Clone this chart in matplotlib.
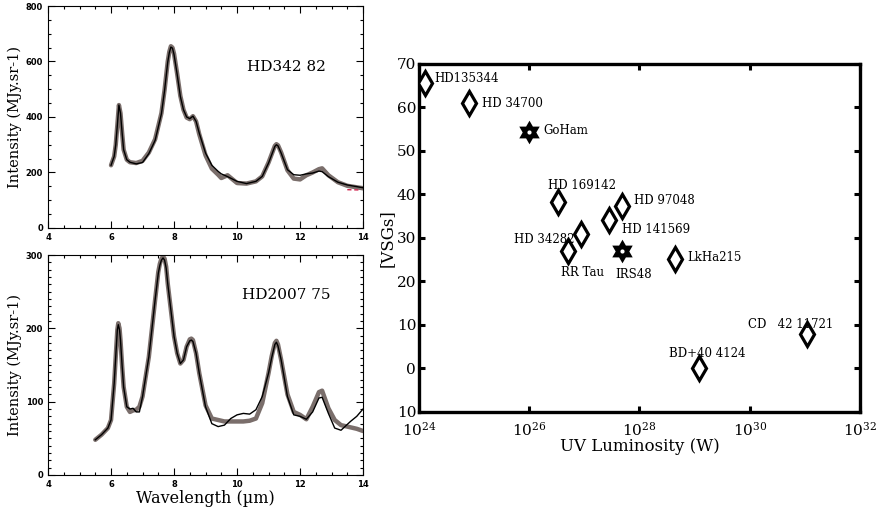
import numpy as np
import matplotlib
matplotlib.use("Agg")
from matplotlib import pyplot as plt
from matplotlib.ticker import MultipleLocator, FixedLocator, FixedFormatter

# top spectrum (HD34282)
wl_a = [6.0, 6.1, 6.15, 6.2, 6.25, 6.3, 6.35, 6.4, 6.5, 6.6, 6.8, 7.0, 7.2, 7.4, 7.6,
        7.7, 7.8, 7.85, 7.9, 7.95, 8.0, 8.1, 8.2, 8.3, 8.4, 8.5, 8.6, 8.7, 8.8, 9.0,
        9.2, 9.4, 9.5, 9.7, 10.0, 10.3, 10.6, 10.8, 11.0, 11.1, 11.2, 11.25, 11.3,
        11.4, 11.6, 11.8, 12.0, 12.2, 12.4, 12.6, 12.7, 12.9, 13.2, 13.5, 14.0]
obs_a = [226, 258, 300, 370, 443, 414, 345, 282, 246, 237, 231, 236, 268, 316, 412,
         496, 598, 632, 652, 648, 625, 553, 474, 426, 400, 394, 403, 384, 342, 270,
         226, 204, 195, 185, 168, 160, 168, 186, 234, 264, 294, 300, 296,
         270, 210, 192, 190, 195, 198, 205, 203, 185, 165, 155, 145]
mod_a = [226, 258, 300, 370, 443, 414, 345, 282, 246, 237, 234, 242, 272, 320, 414,
         498, 600, 635, 655, 650, 628, 555, 476, 426, 398, 392, 403, 384, 338, 262,
         214, 192, 180, 190, 162, 160, 168, 186, 236, 266, 296, 302, 298,
         272, 208, 178, 175, 190, 200, 212, 215, 190, 165, 152, 143]
wl_red = [13.5, 13.9]
red_a = [138, 137]

# bottom spectrum (HD200775)
wl_b = [5.5, 5.7, 5.9, 6.0, 6.1, 6.15, 6.2, 6.23, 6.27, 6.3, 6.35, 6.4, 6.5, 6.6,
        6.7, 6.8, 6.9, 7.0, 7.2, 7.4, 7.5, 7.55, 7.6, 7.65, 7.7, 7.75, 7.8, 8.0,
        8.1, 8.2, 8.3, 8.4, 8.5, 8.55, 8.6, 8.7, 8.8, 9.0, 9.2, 9.4, 9.6, 9.8, 10.0,
        10.2, 10.4, 10.6, 10.8, 11.0, 11.1, 11.2, 11.25, 11.3, 11.4, 11.6, 11.8,
        12.0, 12.2, 12.4, 12.6, 12.7, 12.9, 13.1, 13.3, 13.6, 13.8, 14.0]
obs_b = [48, 55, 64, 75, 125, 162, 198, 205, 198, 184, 150, 120, 93, 90,
         91, 86, 86, 107, 161, 239, 275, 286, 293, 296, 293, 282, 261, 189,
         166, 152, 157, 175, 183, 184, 182, 166, 139, 93, 70, 66, 68, 77, 82,
         84, 83, 89, 107, 139, 160, 178, 181, 176, 157, 107, 82,
         80, 76, 86, 105, 106, 84, 64, 61, 73, 80, 90]
mod_b = [48, 55, 64, 75, 125, 162, 198, 207, 200, 184, 150, 120, 93, 86,
         88, 89, 93, 107, 161, 239, 277, 288, 295, 298, 295, 284, 261, 189,
         166, 152, 157, 175, 185, 186, 184, 166, 139, 95, 77, 75, 73, 73, 73,
         73, 74, 77, 98, 139, 162, 180, 183, 178, 157, 110, 86,
         82, 76, 93, 113, 115, 91, 75, 68, 65, 63, 60]

# right panel: VSG fraction vs UV luminosity
names = ["HD135344", "HD 34700", "GoHam", "HD 169142", "HD 34282", "RR Tau",
         "HD 141569", "HD 97048", "IRS48", "LkHa215", "BD+40 4124", "CD   42 11721"]
log_uv = [24.11, 24.91, 26.0, 26.52, 26.93, 26.71, 27.45, 27.69, 27.69, 28.65, 29.08, 31.04]
vsg = [65.7, 61.0, 54.4, 38.2, 30.9, 26.9, 34.1, 37.4, 27.1, 25.1, 0.0, 7.9]
is_star = [False, False, True, False, False, False, False, False, True, False, False, False]
# label offsets in points and alignment
lab_off = [(6.5, 3), (9.5, 0), (10, 1), (17, 12), (-4, -4), (10, -15),
           (9, -7), (8, 4), (8, -17), (9, 1.5), (6, 11), (-12, 7)]
lab_ha = ["left", "left", "left", "center", "right", "center",
          "left", "left", "center", "left", "center", "center"]

y_ticks = [-10, 0, 10, 20, 30, 40, 50, 60, 70]
y_labels = ["10", "0", "10", "20", "30", "40", "50", "60", "70"]
x_ticks = [1e24, 1e26, 1e28, 1e30, 1e32]
x_labels = [r"$10^{24}$", r"$10^{26}$", r"$10^{28}$", r"$10^{30}$", r"$10^{32}$"]

plt.rcParams["font.family"] = ["DejaVu Serif"]
plt.rcParams["mathtext.fontset"] = "dejavuserif"

fig = plt.figure(figsize=(8.78, 5.13), dpi=100)
ax1 = fig.add_axes([0.0547, 0.5556, 0.3588, 0.4327])
ax2 = fig.add_axes([0.0547, 0.0741, 0.3588, 0.4288])
ax3 = fig.add_axes([0.4772, 0.1969, 0.5023, 0.6784])

gray = "#7a6e6b"
for ax, wl, obs, mod, ymax, yminor, name, ny in [
        (ax1, wl_a, obs_a, mod_a, 800, 50, "HD342 82", 580),
        (ax2, wl_b, obs_b, mod_b, 300, 10, "HD2007 75", 245)]:
    ax.plot(wl, mod, color=gray, lw=3.2, solid_capstyle="round", solid_joinstyle="round")
    ax.plot(wl, obs, color="black", lw=1.0, solid_joinstyle="round")
    ax.set_xlim(4, 14)
    ax.set_ylim(0, ymax)
    ax.xaxis.set_major_locator(MultipleLocator(2))
    ax.xaxis.set_minor_locator(MultipleLocator(0.5))
    ax.yaxis.set_major_locator(MultipleLocator(100 if ymax == 300 else 200))
    ax.yaxis.set_minor_locator(MultipleLocator(yminor))
    ax.tick_params(which="both", direction="in", top=True, right=True,
                   labelsize=6, width=0.8)
    ax.tick_params(which="major", length=5)
    ax.tick_params(which="minor", length=2.5)
    for lab in ax.get_xticklabels() + ax.get_yticklabels():
        lab.set_fontfamily("DejaVu Sans")
        lab.set_fontweight("bold")
    for s in ax.spines.values():
        s.set_linewidth(0.8)
    ax.text(11.56, ny, name, ha="center", va="center", fontsize=11)
    ax.set_ylabel("Intensity (MJy.sr-1)", fontsize=10.5, labelpad=3)

ax1.plot(wl_red, red_a, color="#d0204a", lw=1.0, ls=(0, (3, 2)))
ax2.set_xlabel("Wavelength (\u00b5m)", fontsize=11.5, labelpad=1)

# six-pointed star marker
ang_out = np.deg2rad(np.arange(90, 450, 60))
ang_in = ang_out + np.deg2rad(30)
star = []
for a, b in zip(ang_out, ang_in):
    star.append((np.cos(a), np.sin(a)))
    star.append((np.cos(b) / np.sqrt(3), np.sin(b) / np.sqrt(3)))
star.append(star[0])

uv = [10 ** v for v in log_uv]
for x, y, st in zip(uv, vsg, is_star):
    if st:
        ax3.plot(x, y, marker=star, ms=17, color="black", mew=0, zorder=3)
        ax3.plot(x, y, marker="o", ms=3, color="white", mew=0, zorder=4)
    else:
        ax3.plot(x, y, marker="d", ms=12, mfc="white", mec="black", mew=2.3, zorder=3)
for x, y, n, off, ha in zip(uv, vsg, names, lab_off, lab_ha):
    ax3.annotate(n, (x, y), xytext=off, textcoords="offset points",
                 ha=ha, va="center", fontsize=8.5)

ax3.set_xscale("log")
ax3.set_xlim(1e24, 1e32)
ax3.set_ylim(-10, 70)
ax3.xaxis.set_major_locator(FixedLocator(x_ticks))
ax3.xaxis.set_major_formatter(FixedFormatter(x_labels))
ax3.xaxis.set_minor_locator(FixedLocator([]))
ax3.yaxis.set_major_locator(FixedLocator(y_ticks))
ax3.yaxis.set_major_formatter(FixedFormatter(y_labels))
ax3.tick_params(direction="in", top=True, right=True, length=4, width=2.2,
                labelsize=11, pad=2)
ax3.tick_params(axis="x", pad=6)
for s in ax3.spines.values():
    s.set_linewidth(2.4)
ax3.set_xlabel("UV Luminosity (W)", fontsize=12, labelpad=0)
ax3.set_ylabel("[VSGs]", fontsize=12, labelpad=1)

fig.savefig("out.png", dpi=100)
